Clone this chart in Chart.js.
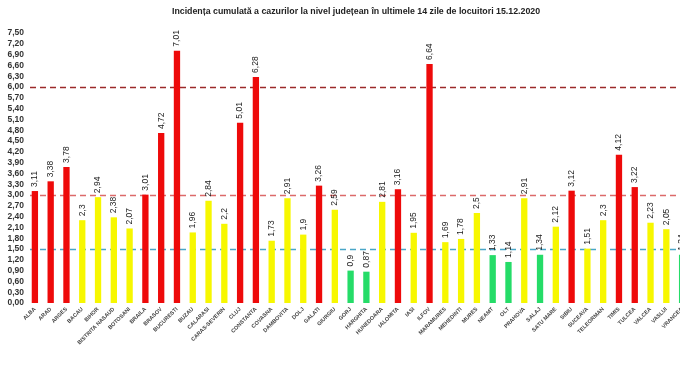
<!DOCTYPE html>
<html>
<head>
<meta charset="utf-8">
<script src="https://cdn.jsdelivr.net/npm/chart.js@4/dist/chart.umd.min.js"></script>
<style>
	html, body
	{
		margin: 0;
		padding: 0;
		background: white;
		overflow: hidden;
	}
	#wrap
	{
		width: 690px;
		height: 365px;
	}
</style>
</head>
<body>
<div id="wrap"><canvas id="bars"></canvas></div>
<script>
var judete = ["ALBA", "ARAD", "ARGES", "BACAU", "BIHOR", "BISTRITA NASAUD", "BOTOSANI", "BRAILA",
	"BRASOV", "BUCURESTI", "BUZAU", "CALARASI", "CARAS-SEVERIN", "CLUJ", "CONSTANTA", "COVASNA",
	"DAMBOVITA", "DOLJ", "GALATI", "GIURGIU", "GORJ", "HARGHITA", "HUNEDOARA", "IALOMITA", "IASI",
	"ILFOV", "MARAMURES", "MEHEDINTI", "MURES", "NEAMT", "OLT", "PRAHOVA", "SALAJ", "SATU MARE",
	"SIBIU", "SUCEAVA", "TELEORMAN", "TIMIS", "TULCEA", "VALCEA", "VASLUI", "VRANCEA"];
var incidenta = [3.11, 3.38, 3.78, 2.3, 2.94, 2.38, 2.07, 3.01,
	4.72, 7.01, 1.96, 2.84, 2.2, 5.01, 6.28, 1.73,
	2.91, 1.9, 3.26, 2.59, 0.9, 0.87, 2.81, 3.16, 1.95,
	6.64, 1.69, 1.78, 2.5, 1.33, 1.14, 2.91, 1.34, 2.12,
	3.12, 1.51, 2.3, 4.12, 3.22, 2.23, 2.05, 1.34];
var yTicks = [0, 0.3, 0.6, 0.9, 1.2, 1.5, 1.8, 2.1, 2.4, 2.7, 3, 3.3, 3.6, 3.9, 4.2, 4.5,
	4.8, 5.1, 5.4, 5.7, 6, 6.3, 6.6, 6.9, 7.2, 7.5];
var praguri = [6, 3, 1.5];
var titlu = "Incidența cumulată a cazurilor la nivel județean în ultimele 14 zile de locuitori 15.12.2020";

function culoare(v)
{
	if(v > 3)
	{
		return "#ee0a0a";
	}
	else if(v >= 1.5)
	{
		return "#f7f700";
	}
	return "#25dc68";
}

function fmt(v, dec)
{
	let s = (dec === undefined) ? String(v) : v.toFixed(dec);
	return s.replace(".", ",");
}

var culoriPraguri = ["#9c2a2a", "#dc6a6a", "#4aa6c8"];

var praguriPlugin =
{
	id: "praguri",
	beforeDatasetsDraw: function(chart)
	{
		let ctx = chart.ctx;
		let y = chart.scales.y;
		let area = chart.chartArea;
		ctx.save();
		ctx.lineWidth = 1.3;
		ctx.setLineDash([6, 4]);
		for(let i = 0; i < praguri.length; i++)
		{
			let py = Math.round(y.getPixelForValue(praguri[i])) + 0.5;
			ctx.strokeStyle = culoriPraguri[i];
			ctx.beginPath();
			ctx.moveTo(area.left + 3, py);
			ctx.lineTo(area.right, py);
			ctx.stroke();
		}
		ctx.restore();
	}
};

var valoriPlugin =
{
	id: "valori",
	afterDatasetsDraw: function(chart)
	{
		let ctx = chart.ctx;
		let meta = chart.getDatasetMeta(0);
		ctx.save();
		ctx.fillStyle = "#222";
		ctx.font = "8.5px 'Liberation Sans', Arial, sans-serif";
		ctx.textAlign = "left";
		ctx.textBaseline = "middle";
		for(let i = 0; i < meta.data.length; i++)
		{
			let bar = meta.data[i];
			ctx.save();
			ctx.translate(bar.x, bar.y - 4);
			ctx.rotate(-Math.PI / 2);
			ctx.fillText(fmt(incidenta[i]), 0, 0);
			ctx.restore();
		}
		ctx.restore();
	}
};

// title drawn by hand, the original one is a bit right of the middle
var titluPlugin =
{
	id: "titlu",
	afterDraw: function(chart)
	{
		let ctx = chart.ctx;
		ctx.save();
		ctx.fillStyle = "#222";
		ctx.font = "bold 8.8px 'Liberation Sans', Arial, sans-serif";
		ctx.textAlign = "center";
		ctx.textBaseline = "middle";
		ctx.fillText(titlu, 356, 12);
		ctx.restore();
	}
};

var bars = new Chart("bars",
{
	type: "bar",
	data:
	{
		labels: judete,
		datasets:
		[{
			data: incidenta,
			backgroundColor: incidenta.map(culoare),
			categoryPercentage: 1,
			barPercentage: 0.4
		}]
	},
	plugins: [praguriPlugin, valoriPlugin, titluPlugin],
	options:
	{
		responsive: true,
		maintainAspectRatio: false,
		animation: false,
		layout: { padding: { left: 0, right: 0, top: 33, bottom: 0 } },
		plugins:
		{
			legend: { display: false },
			tooltip: { enabled: false },
			title: { display: false }
		},
		scales:
		{
			x:
			{
				grid: { display: false, drawTicks: false },
				border: { display: false },
				ticks:
				{
					color: "#444",
					font: { size: 5.5, weight: "bold", family: "'Liberation Sans', Arial, sans-serif" },
					minRotation: 45,
					maxRotation: 45,
					autoSkip: false,
					padding: 3
				},
				afterFit: function(scale)
				{
					scale.height = 62;
				}
			},
			y:
			{
				min: 0,
				max: 7.5,
				grid: { display: false, drawTicks: false },
				border: { display: false },
				afterBuildTicks: function(scale)
				{
					scale.ticks = yTicks.map(function(v) { return { value: v }; });
				},
				ticks:
				{
					autoSkip: false,
					color: "#333",
					padding: 3,
					font: { size: 8.5, weight: "bold", family: "'Liberation Sans', Arial, sans-serif" },
					callback: function(v)
					{
						return fmt(v, 2);
					}
				},
				afterFit: function(scale)
				{
					scale.width = 27;
				}
			}
		}
	}
});
</script>
</body>
</html>
